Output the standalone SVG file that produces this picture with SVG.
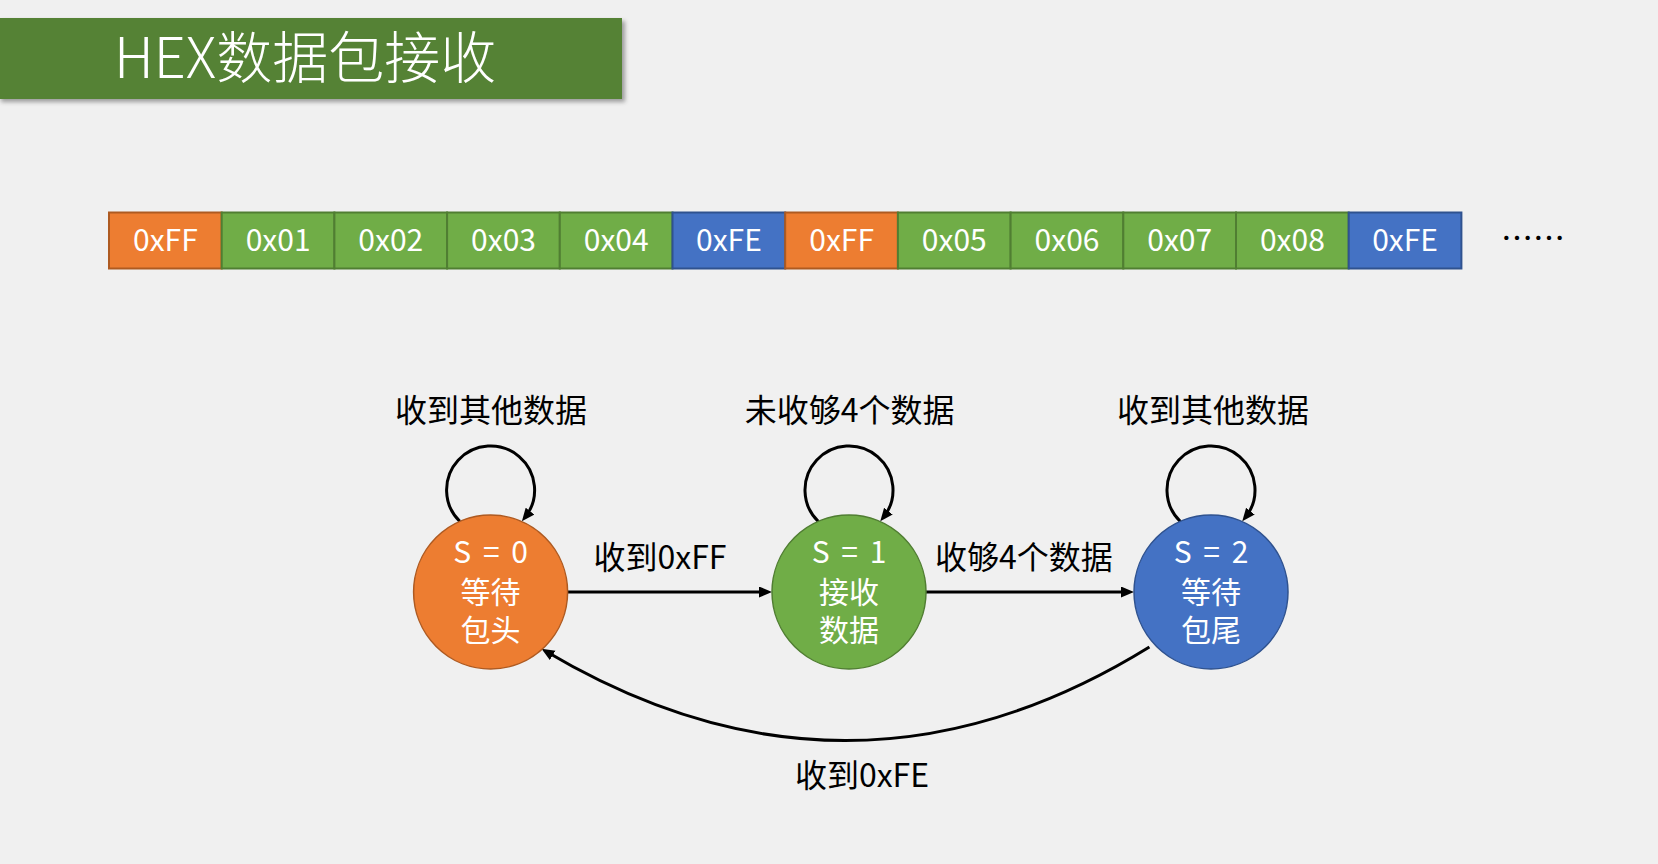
<svg xmlns="http://www.w3.org/2000/svg" width="1658" height="864" viewBox="0 0 1658 864">
<style>
.bg{fill:#F0F0F0}
.t{font-family:"Noto Sans CJK SC","Noto Sans",sans-serif}
.cell{stroke-width:2}
.or{fill:#ED7D31;stroke:#AE5A21}
.gr{fill:#70AD47;stroke:#507E32}
.bl{fill:#4472C4;stroke:#2F528F}
.ct{fill:#FFFFFF;font-size:30px;text-anchor:middle}
.nt{fill:#FFFFFF;font-size:30px;text-anchor:middle}
.st{word-spacing:5px}
.lb{fill:#000000;font-size:32px;text-anchor:middle}
.edge{fill:none;stroke:#000000;stroke-width:3}
.node{stroke-width:1.5}
</style>
<defs>
<marker id="ah" markerUnits="userSpaceOnUse" markerWidth="14" markerHeight="12" refX="8" refY="5.5" orient="auto">
<path d="M0,0 L13,5.5 L0,11 Z" fill="#000000"/>
</marker>
<filter id="sh" x="-5%" y="-20%" width="115%" height="150%">
<feDropShadow dx="3" dy="3" stdDeviation="2" flood-color="#000000" flood-opacity="0.35"/>
</filter>
</defs>
<rect class="bg" x="0" y="0" width="1658" height="864"/>
<g id="title">
<rect x="-2" y="18" width="624" height="81" fill="#548235" filter="url(#sh)"/>
<text class="t" x="114" y="78" font-size="56" font-weight="300" fill="#FFFFFF">HEX数据包接收</text>
</g>
<g id="bytes">
<g id="b0"><rect class="cell or" x="109" y="212.5" width="112.7" height="56"/><text class="t ct" x="165.4" y="251">0xFF</text></g>
<g id="b1"><rect class="cell gr" x="221.7" y="212.5" width="112.7" height="56"/><text class="t ct" x="278.1" y="251">0x01</text></g>
<g id="b2"><rect class="cell gr" x="334.4" y="212.5" width="112.7" height="56"/><text class="t ct" x="390.8" y="251">0x02</text></g>
<g id="b3"><rect class="cell gr" x="447.1" y="212.5" width="112.7" height="56"/><text class="t ct" x="503.5" y="251">0x03</text></g>
<g id="b4"><rect class="cell gr" x="559.8" y="212.5" width="112.7" height="56"/><text class="t ct" x="616.2" y="251">0x04</text></g>
<g id="b5"><rect class="cell bl" x="672.5" y="212.5" width="112.7" height="56"/><text class="t ct" x="728.9" y="251">0xFE</text></g>
<g id="b6"><rect class="cell or" x="785.2" y="212.5" width="112.7" height="56"/><text class="t ct" x="841.6" y="251">0xFF</text></g>
<g id="b7"><rect class="cell gr" x="897.9" y="212.5" width="112.7" height="56"/><text class="t ct" x="954.3" y="251">0x05</text></g>
<g id="b8"><rect class="cell gr" x="1010.6" y="212.5" width="112.7" height="56"/><text class="t ct" x="1067" y="251">0x06</text></g>
<g id="b9"><rect class="cell gr" x="1123.3" y="212.5" width="112.7" height="56"/><text class="t ct" x="1179.7" y="251">0x07</text></g>
<g id="b10"><rect class="cell gr" x="1236" y="212.5" width="112.7" height="56"/><text class="t ct" x="1292.4" y="251">0x08</text></g>
<g id="b11"><rect class="cell bl" x="1348.7" y="212.5" width="112.7" height="56"/><text class="t ct" x="1405.1" y="251">0xFE</text></g>
<text class="t" x="1533" y="250" font-size="32" text-anchor="middle" fill="#000000">……</text>
</g>
<g id="connectors">
<path class="edge" marker-end="url(#ah)" d="M459.8 521.4 A44 44 0 1 1 525 517.4"/>
<path class="edge" marker-end="url(#ah)" d="M818.2 521.4 A44 44 0 1 1 883.4 517.4"/>
<path class="edge" marker-end="url(#ah)" d="M1180.2 521.4 A44 44 0 1 1 1245.4 517.4"/>
<path class="edge" marker-end="url(#ah)" d="M568 592 L767 592"/>
<path class="edge" marker-end="url(#ah)" d="M926 592 L1129 592"/>
<path class="edge" marker-end="url(#ah)" d="M1149.4 647 Q850 832 545.8 651.3"/>
<text class="t lb" x="491" y="422">收到其他数据</text>
<text class="t lb" x="849.6" y="422">未收够4个数据</text>
<text class="t lb" x="1213" y="422">收到其他数据</text>
<text class="t lb" x="660" y="569">收到0xFF</text>
<text class="t lb" x="1024" y="569">收够4个数据</text>
<text class="t lb" x="862" y="787">收到0xFE</text>
</g>
<g id="s0">
<circle class="node or" cx="490.6" cy="592" r="77"/>
<text class="t nt st" x="490.6" y="563">S = 0</text>
<text class="t nt" x="490.6" y="603">等待</text>
<text class="t nt" x="490.6" y="641">包头</text>
</g>
<g id="s1">
<circle class="node gr" cx="849" cy="592" r="77"/>
<text class="t nt st" x="849" y="563">S = 1</text>
<text class="t nt" x="849" y="603">接收</text>
<text class="t nt" x="849" y="641">数据</text>
</g>
<g id="s2">
<circle class="node bl" cx="1211" cy="592" r="77"/>
<text class="t nt st" x="1211" y="563">S = 2</text>
<text class="t nt" x="1211" y="603">等待</text>
<text class="t nt" x="1211" y="641">包尾</text>
</g>
</svg>
